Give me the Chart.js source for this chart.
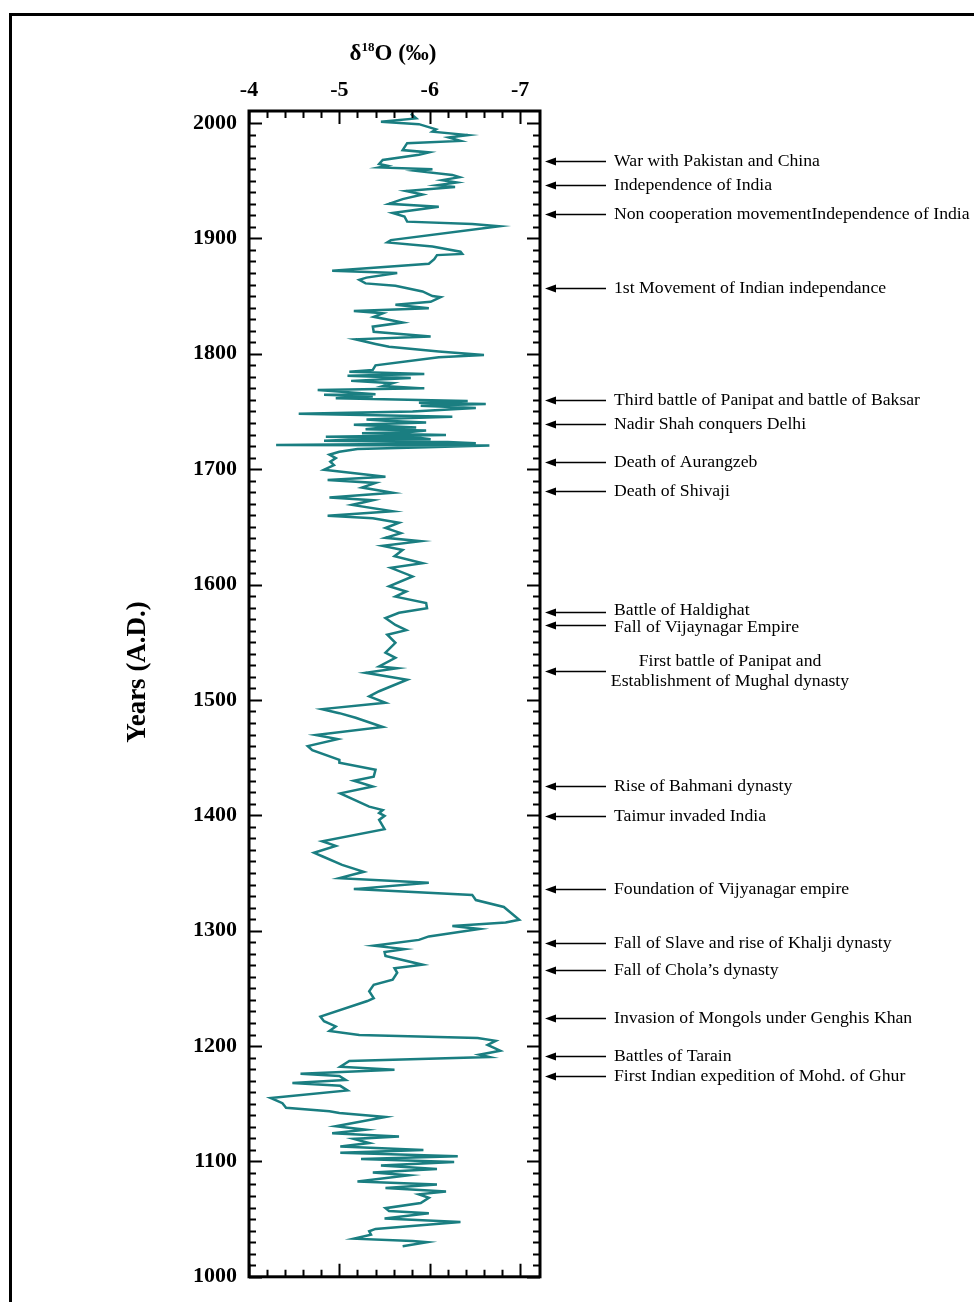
<!DOCTYPE html>
<html>
<head>
<meta charset="utf-8">
<script src="https://cdn.jsdelivr.net/npm/chart.js@4.4.0/dist/chart.umd.min.js"></script>
<style>
  html, body { margin: 0; padding: 0; background: #fff; }
  canvas { display: block; }
</style>
</head>
<body>
<canvas id="chart" width="974" height="1302"></canvas>
<script>
// Stalagmite oxygen-isotope record, 1000–2010 A.D.
const years = [
  2008, 2004, 2001, 1999, 1994.5, 1992.5, 1989.5, 1987.5, 1984.5, 1982.5,
  1976.5, 1974.5, 1972.5, 1968, 1964.5, 1963, 1961.5, 1960, 1958.5, 1955,
  1953, 1950.5, 1948.5, 1946, 1944.5, 1941, 1938, 1934, 1930, 1927.5,
  1922, 1919, 1914.5, 1912.5, 1910.5, 1898.5, 1896.5, 1893, 1888.5, 1886.5,
  1885.5, 1882, 1878, 1872, 1870, 1866, 1864, 1861, 1859, 1854,
  1850, 1849, 1845, 1842.5, 1839.5, 1837, 1835, 1832, 1827, 1823.5,
  1819, 1815, 1812.5, 1808.5, 1806, 1802, 1799, 1797, 1790, 1786,
  1784.5, 1782.5, 1781, 1779, 1776.5, 1774.5, 1772, 1770, 1768.5, 1765,
  1764.5, 1763, 1761.5, 1759, 1757.5, 1756.5, 1755, 1753, 1750, 1748,
  1745.5, 1744, 1743, 1742, 1740.5, 1738.5, 1737, 1736, 1735.5, 1734.5,
  1733.5, 1732, 1731, 1729.5, 1728, 1727, 1726, 1725.5, 1724.5, 1723.5,
  1722.5, 1721, 1720.5, 1719, 1717.5, 1715, 1712.5, 1709.5, 1706.5, 1703.5,
  1699.5, 1693.5, 1690.5, 1688, 1684, 1679.5, 1675.5, 1673, 1669, 1663.5,
  1659.5, 1657.5, 1653.5, 1649, 1644.5, 1640.5, 1637.5, 1633.5, 1630, 1624.5,
  1618.5, 1614.5, 1607, 1598.5, 1594, 1589.5, 1584, 1579.5, 1575.5, 1571,
  1565, 1560.5, 1556.5, 1549.5, 1541, 1536.5, 1529, 1527.5, 1523.5, 1517.5,
  1507.5, 1503, 1497.5, 1492, 1488.5, 1484.5, 1476.5, 1469.5, 1466, 1460,
  1456.5, 1448, 1445.5, 1439.5, 1433.5, 1430, 1425, 1419, 1407.5, 1404.5,
  1402, 1399.5, 1396, 1388, 1377.5, 1373.5, 1367.5, 1364.5, 1357, 1351,
  1345.5, 1341.5, 1336, 1331, 1326.5, 1320.5, 1309.5, 1307, 1304, 1301.5,
  1295, 1292, 1287, 1284, 1281.5, 1278, 1270.5, 1267.5, 1263.5, 1257.5,
  1253, 1247.5, 1241.5, 1239, 1225.5, 1221.5, 1217, 1213, 1209.5, 1207,
  1204.5, 1201, 1196, 1192.5, 1190.5, 1187, 1182, 1179.5, 1176, 1174,
  1170.5, 1168, 1165.5, 1161.5, 1155, 1150.5, 1146.5, 1143.5, 1142, 1138.5,
  1130.5, 1127.5, 1124.5, 1121.5, 1119.5, 1116, 1113, 1110, 1107.5, 1104.5,
  1102, 1099.5, 1096.5, 1093.5, 1090.5, 1088, 1082.5, 1080, 1077, 1074,
  1071.5, 1068.5, 1064, 1059.5, 1057, 1055, 1050.5, 1047.5, 1041.5, 1039.5,
  1036.5, 1033, 1031, 1030, 1026.5
];

const d18O = [
  -5.79, -5.85, -5.46, -5.88, -6.07, -6.03, -6.42, -6.21, -6.34, -5.75,
  -5.70, -5.99, -5.88, -5.48, -5.44, -5.53, -5.44, -6.03, -5.85, -6.25,
  -6.33, -6.14, -6.30, -6.08, -6.28, -5.74, -5.92, -5.70, -5.55, -6.10,
  -5.59, -5.72, -5.75, -6.47, -6.77, -5.57, -5.53, -6.03, -6.34, -6.36,
  -6.08, -6.05, -5.99, -4.92, -5.64, -5.30, -5.22, -5.29, -5.62, -5.92,
  -6.03, -6.12, -6.01, -5.62, -5.99, -5.16, -5.48, -5.38, -5.70, -5.37,
  -5.38, -6.01, -5.18, -5.40, -5.55, -6.10, -6.60, -6.10, -5.40, -5.37,
  -5.11, -5.94, -5.09, -5.79, -5.13, -5.59, -5.48, -5.94, -4.76, -5.40,
  -4.83, -5.37, -4.96, -6.42, -5.88, -6.62, -5.90, -6.51, -5.81, -4.55,
  -6.25, -5.70, -5.30, -5.51, -5.96, -5.16, -5.62, -5.85, -5.40, -5.29,
  -5.96, -5.75, -5.25, -6.18, -4.85, -5.90, -6.01, -5.10, -4.83, -6.20,
  -6.51, -4.30, -6.66, -5.97, -5.20, -5.00, -4.89, -4.96, -4.90, -4.94,
  -4.83, -5.51, -4.87, -5.40, -5.25, -5.59, -4.89, -5.37, -5.14, -5.59,
  -4.87, -5.37, -5.66, -5.51, -5.68, -5.51, -5.90, -5.48, -5.70, -5.61,
  -5.92, -5.57, -5.81, -5.55, -5.74, -5.62, -5.96, -5.97, -5.66, -5.51,
  -5.62, -5.74, -5.53, -5.62, -5.51, -5.62, -5.44, -5.64, -5.29, -5.75,
  -5.44, -5.33, -5.51, -4.81, -5.00, -5.18, -5.48, -4.74, -4.98, -4.65,
  -4.70, -5.00, -5.00, -5.40, -5.38, -5.16, -5.37, -5.01, -5.33, -5.48,
  -5.44, -5.50, -5.44, -5.50, -4.81, -4.96, -4.72, -4.81, -5.03, -5.27,
  -5.00, -5.99, -5.16, -6.47, -6.51, -6.82, -6.99, -6.84, -6.25, -6.55,
  -5.99, -5.88, -5.38, -5.72, -5.50, -5.51, -5.92, -5.61, -5.64, -5.59,
  -5.38, -5.33, -5.38, -5.31, -4.79, -4.83, -4.96, -4.89, -5.22, -6.53,
  -6.73, -6.64, -6.78, -6.55, -6.66, -5.11, -5.01, -5.61, -4.57, -5.00,
  -5.07, -4.48, -5.01, -5.09, -4.24, -4.37, -4.41, -4.89, -5.00, -5.51,
  -4.96, -5.29, -4.92, -5.66, -5.16, -5.33, -5.01, -5.93, -5.01, -6.31,
  -5.24, -6.27, -5.46, -6.08, -5.37, -5.77, -5.20, -6.08, -5.51, -6.18,
  -5.88, -5.99, -5.90, -5.51, -5.55, -5.99, -5.50, -6.34, -5.40, -5.33,
  -5.35, -5.16, -5.81, -5.97, -5.70
];

// Axis tick labels
const yearTicks = [1000, 1100, 1200, 1300, 1400, 1500, 1600, 1700, 1800, 1900, 2000];
const isotopeTicks = [-4, -5, -6, -7];

// Historical events marked along the right axis
const eventYears = [1967, 1946, 1921, 1857, 1760, 1739, 1706, 1681, 1576, 1565,
                    1525, 1425, 1399, 1336, 1289, 1266, 1224, 1191, 1174];
const eventLabels = [
  'War with Pakistan and China',
  'Independence of India',
  'Non cooperation movementIndependence of India',
  '1st Movement of Indian independance',
  'Third battle of Panipat and battle of Baksar',
  'Nadir Shah conquers Delhi',
  'Death of Aurangzeb',
  'Death of Shivaji',
  'Battle of Haldighat',
  'Fall of Vijaynagar Empire',
  'First battle of Panipat and\nEstablishment of Mughal dynasty',
  'Rise of Bahmani dynasty',
  'Taimur invaded India',
  'Foundation of Vijyanagar empire',
  'Fall of Slave and rise of Khalji dynasty',
  'Fall of Chola\u2019s dynasty',
  'Invasion of Mongols under Genghis Khan',
  'Battles of Tarain',
  'First Indian expedition of Mohd. of Ghur'
];

const SERIF = '"Liberation Serif", "Times New Roman", serif';
const LINE_COLOR = '#1a7e81';

const points = years.map((y, i) => ({ x: d18O[i], y: y }));

// Frame, inward ticks, titles and event arrows
const decorations = {
  id: 'decorations',
  beforeDraw(chart) {
    const ctx = chart.ctx;
    ctx.save();
    ctx.fillStyle = '#fff';
    ctx.fillRect(0, 0, chart.width, chart.height);
    // outer figure border
    ctx.strokeStyle = '#000';
    ctx.lineWidth = 3;
    ctx.beginPath();
    ctx.moveTo(10.5, chart.height + 5);
    ctx.lineTo(10.5, 14.5);
    ctx.lineTo(chart.width + 5, 14.5);
    ctx.stroke();
    ctx.restore();
  },
  afterDraw(chart) {
    const ctx = chart.ctx;
    const a = chart.chartArea;
    const xs = chart.scales.x;
    const ys = chart.scales.y;
    ctx.save();
    ctx.strokeStyle = '#000';

    // tick marks pointing inward on all four sides
    ctx.lineWidth = 2;
    ctx.beginPath();
    for (let k = 0; k <= 15; k++) {
      const v = -4 - 0.2 * k;
      const px = Math.round(xs.getPixelForValue(v)) + 0.5;
      const len = (k % 5 === 0) ? 13 : 7;
      ctx.moveTo(px, a.top);
      ctx.lineTo(px, a.top + len);
      ctx.moveTo(px, a.bottom);
      ctx.lineTo(px, a.bottom - len);
    }
    for (let yv = 1000; yv <= 2000; yv += 10) {
      const py = Math.round(ys.getPixelForValue(yv)) + 0.5;
      const len = (yv % 100 === 0) ? 13 : 7;
      ctx.moveTo(a.left, py);
      ctx.lineTo(a.left + len, py);
      ctx.moveTo(a.right, py);
      ctx.lineTo(a.right - len, py);
    }
    ctx.stroke();

    // plot frame
    ctx.lineWidth = 3;
    ctx.strokeRect(a.left, a.top, a.right - a.left, a.bottom - a.top);

    // top title: delta 18 O (per mil)
    ctx.fillStyle = '#000';
    ctx.textBaseline = 'alphabetic';
    const big = 'bold 23px ' + SERIF;
    const small = 'bold 13px ' + SERIF;
    ctx.font = big;
    const w1 = ctx.measureText('\u03b4').width;
    const w3 = ctx.measureText('O (\u2030)').width;
    ctx.font = small;
    const w2 = ctx.measureText('18').width;
    let tx = 393 - (w1 + w2 + w3) / 2;
    const ty = 60;
    ctx.font = big;
    ctx.fillText('\u03b4', tx, ty);
    tx += w1;
    ctx.font = small;
    ctx.fillText('18', tx, ty - 9);
    tx += w2;
    ctx.font = big;
    ctx.fillText('O (\u2030)', tx, ty);

    // left axis title
    ctx.save();
    ctx.translate(138, 672);
    ctx.rotate(-Math.PI / 2);
    ctx.font = 'bold 27px ' + SERIF;
    ctx.textAlign = 'center';
    ctx.textBaseline = 'middle';
    ctx.fillText('Years (A.D.)', 0, 0);
    ctx.restore();

    // event arrows and labels
    const arrowY = eventYears.map(v => ys.getPixelForValue(v));
    const textY = arrowY.slice();
    for (let i = 1; i < textY.length; i++) {
      if (textY[i] - textY[i - 1] < 17) {
        const mid = (textY[i] + textY[i - 1]) / 2;
        textY[i - 1] = mid - 8.5;
        textY[i] = mid + 8.5;
      }
    }
    const tip = a.right + 5;
    ctx.lineWidth = 1.3;
    ctx.font = '17.7px ' + SERIF;
    ctx.textBaseline = 'middle';
    eventLabels.forEach((label, i) => {
      const y = Math.round(arrowY[i]) + 0.5;
      ctx.beginPath();
      ctx.moveTo(tip + 8, y);
      ctx.lineTo(tip + 61, y);
      ctx.stroke();
      ctx.beginPath();
      ctx.moveTo(tip, y);
      ctx.lineTo(tip + 11, y - 4);
      ctx.lineTo(tip + 11, y + 4);
      ctx.closePath();
      ctx.fill();
      const lines = label.split('\n');
      if (lines.length > 1) {
        ctx.textAlign = 'center';
        lines.forEach((ln, j) => {
          ctx.fillText(ln, a.right + 190, textY[i] + (j - (lines.length - 1) / 2) * 20);
        });
      } else {
        ctx.textAlign = 'left';
        ctx.fillText(label, a.right + 74, textY[i]);
      }
    });
    ctx.restore();
  }
};

new Chart(document.getElementById('chart'), {
  type: 'line',
  data: {
    datasets: [{
      data: points,
      borderColor: LINE_COLOR,
      borderWidth: 2.5,
      pointRadius: 0,
      tension: 0,
      fill: false
    }]
  },
  options: {
    responsive: false,
    animation: false,
    events: [],
    layout: { padding: { left: 184, right: 434, top: 71, bottom: 25 } },
    plugins: {
      legend: { display: false },
      tooltip: { enabled: false },
      title: { display: false }
    },
    scales: {
      x: {
        type: 'linear',
        position: 'top',
        reverse: true,
        min: -7.22,
        max: -4,
        grid: { display: false, drawTicks: false },
        border: { display: false },
        afterBuildTicks: s => { s.ticks = isotopeTicks.map(v => ({ value: v })); },
        afterFit: s => { s.height = 40; },
        ticks: {
          color: '#000',
          padding: 7,
          maxRotation: 0,
          font: { family: SERIF, size: 22, weight: 'bold' },
          callback: v => String(v)
        }
      },
      y: {
        type: 'linear',
        min: 1000,
        max: 2010.4,
        grid: { display: false, drawTicks: false },
        border: { display: false },
        afterBuildTicks: s => { s.ticks = yearTicks.map(v => ({ value: v })); },
        afterFit: s => { s.width = 65; },
        ticks: {
          color: '#000',
          padding: 12,
          font: { family: SERIF, size: 22, weight: 'bold' },
          callback: v => String(v)
        }
      }
    }
  },
  plugins: [decorations]
});
</script>
</body>
</html>
